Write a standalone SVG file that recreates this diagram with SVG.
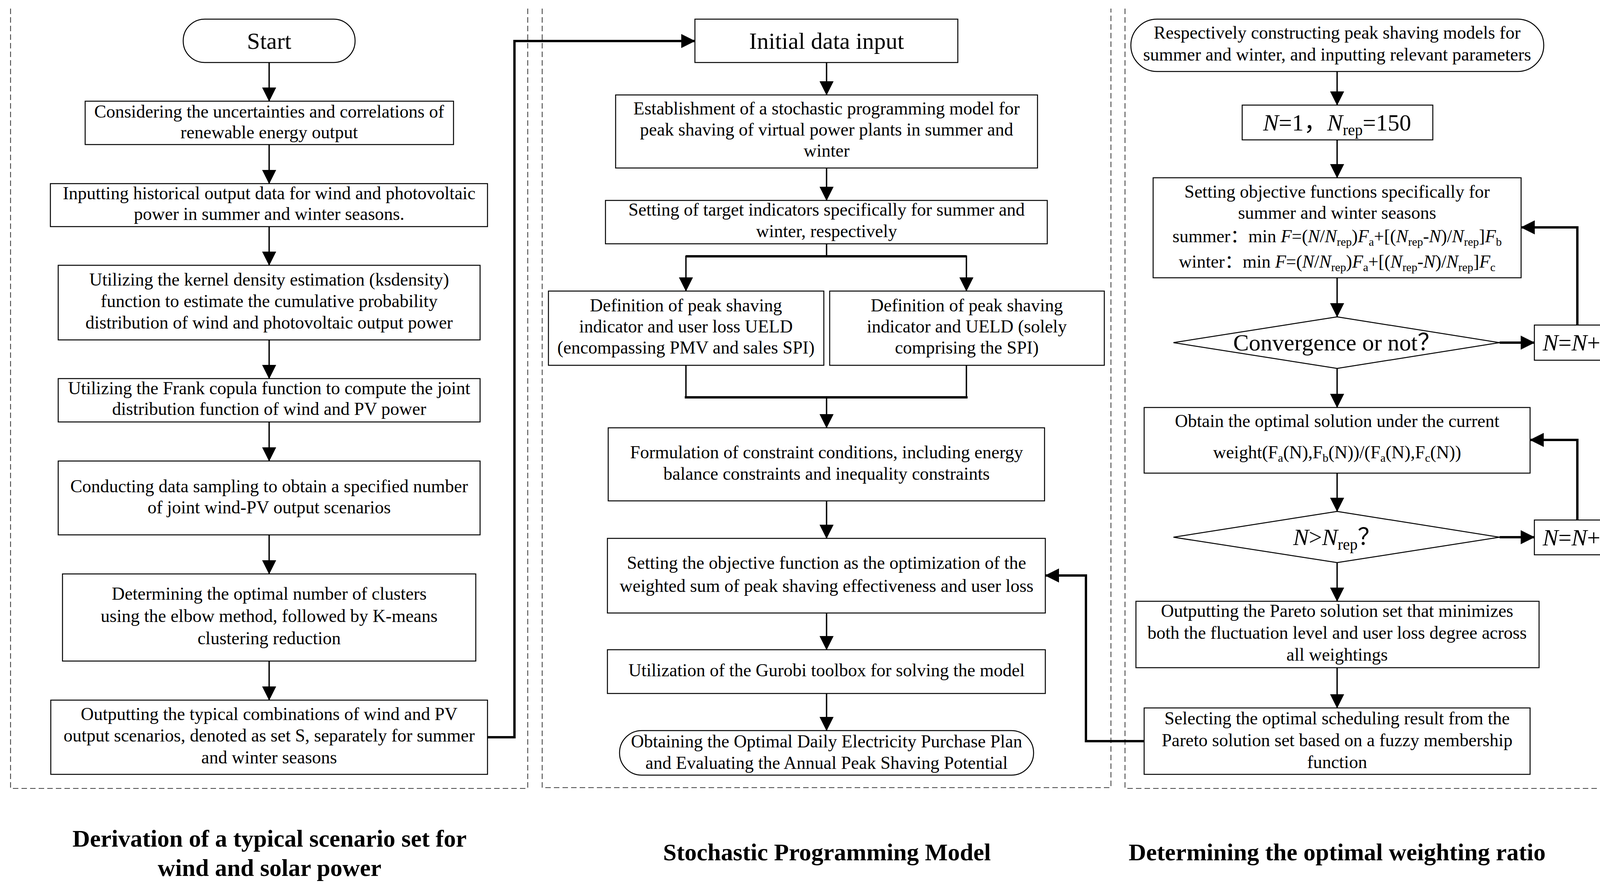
<svg xmlns="http://www.w3.org/2000/svg" width="4229" height="2278" viewBox="0 0 4229 2278">
<defs>
<style>
.t{font-family:"Liberation Serif","Times New Roman","Noto Sans CJK SC",serif;font-size:46px;fill:#000;text-anchor:middle}
.big{font-size:60px}
.ttl{font-family:"Liberation Serif","Times New Roman",serif;font-size:62px;font-weight:bold;fill:#000;text-anchor:middle}
.box{fill:#fff;stroke:#000;stroke-width:2.5}
.pan{fill:none;stroke:#444;stroke-width:2.2;stroke-dasharray:14 8}
.ar{fill:none;stroke:#000;stroke-width:3.5}
.thk{fill:none;stroke:#000;stroke-width:6}
.it{font-style:italic}
.sb{font-size:30px}
.sb2{font-size:40px}
</style>
<marker id="ah" markerUnits="userSpaceOnUse" markerWidth="36" markerHeight="36" viewBox="0 0 36 36" refX="35" refY="18" orient="auto">
<path d="M0,0 L36,18 L0,36 z" fill="#000"/>
</marker>
</defs>
<rect width="4229" height="2278" fill="#fff"/>

<g id="panels">
<path class="pan" d="M27,22 V2018 H1351 V22"/>
<path class="pan" d="M1388,22 V2016 H2844 V22"/>
<path class="pan" d="M2880,22 V2018 H4204 V22"/>
</g>

<g id="connectors">
<path class="ar" marker-end="url(#ah)" d="M689,160 V259"/>
<path class="ar" marker-end="url(#ah)" d="M689,370 V470"/>
<path class="ar" marker-end="url(#ah)" d="M689,580 V679"/>
<path class="ar" marker-end="url(#ah)" d="M689,870 V969"/>
<path class="ar" marker-end="url(#ah)" d="M689,1080 V1180"/>
<path class="ar" marker-end="url(#ah)" d="M689,1369 V1469"/>
<path class="ar" marker-end="url(#ah)" d="M689,1692 V1792"/>
<path class="thk" marker-end="url(#ah)" d="M1248,1887 H1317 V105 H1779"/>

<path class="ar" marker-end="url(#ah)" d="M2116,160 V243"/>
<path class="ar" marker-end="url(#ah)" d="M2116,430 V513"/>
<path class="ar" d="M2116,624 V656"/>
<path class="thk" d="M1756,656 H2474"/>
<path class="ar" marker-end="url(#ah)" d="M1756,654 V745"/>
<path class="ar" marker-end="url(#ah)" d="M2474,654 V745"/>
<path class="ar" d="M1756,935 V1017"/>
<path class="ar" d="M2474,935 V1017"/>
<path class="thk" d="M1753,1017 H2477"/>
<path class="ar" marker-end="url(#ah)" d="M2116,1017 V1095"/>
<path class="ar" marker-end="url(#ah)" d="M2116,1282 V1378"/>
<path class="ar" marker-end="url(#ah)" d="M2116,1569 V1663"/>
<path class="ar" marker-end="url(#ah)" d="M2116,1775 V1870"/>
<path class="thk" marker-end="url(#ah)" d="M2929,1897 H2780 V1473 H2676"/>

<path class="ar" marker-end="url(#ah)" d="M3423,183 V269"/>
<path class="ar" marker-end="url(#ah)" d="M3423,358 V455"/>
<path class="ar" marker-end="url(#ah)" d="M3423,711 V811"/>
<path class="thk" marker-end="url(#ah)" d="M3839,877 H3928"/>
<path class="thk" marker-end="url(#ah)" d="M4038,832 V582 H3894"/>
<path class="ar" marker-end="url(#ah)" d="M3423,943 V1043"/>
<path class="ar" marker-end="url(#ah)" d="M3423,1211 V1309"/>
<path class="thk" marker-end="url(#ah)" d="M3839,1375 H3928"/>
<path class="thk" marker-end="url(#ah)" d="M4038,1331 V1126 H3917"/>
<path class="ar" marker-end="url(#ah)" d="M3423,1440 V1539"/>
<path class="ar" marker-end="url(#ah)" d="M3423,1709 V1812"/>
</g>

<g id="start">
<rect class="box" x="469" y="49" width="440" height="111" rx="55"/>
<text class="t big" x="689" y="125">Start</text>
</g>
<g id="n1">
<rect class="box" x="218" y="259" width="943" height="111"/>
<text class="t" x="689" y="301">Considering the uncertainties and correlations of</text>
<text class="t" x="689" y="354">renewable energy output</text>
</g>
<g id="n2">
<rect class="box" x="129" y="470" width="1119" height="110"/>
<text class="t" x="689" y="510">Inputting historical output data for wind and photovoltaic</text>
<text class="t" x="689" y="563">power in summer and winter seasons.</text>
</g>
<g id="n3">
<rect class="box" x="149" y="679" width="1080" height="191"/>
<text class="t" x="689" y="731">Utilizing the kernel density estimation (ksdensity)</text>
<text class="t" x="689" y="786">function to estimate the cumulative probability</text>
<text class="t" x="689" y="841">distribution of wind and photovoltaic output power</text>
</g>
<g id="n4">
<rect class="box" x="149" y="969" width="1080" height="111"/>
<text class="t" x="689" y="1009">Utilizing the Frank copula function to compute the joint</text>
<text class="t" x="689" y="1062">distribution function of wind and PV power</text>
</g>
<g id="n5">
<rect class="box" x="149" y="1180" width="1080" height="189"/>
<text class="t" x="689" y="1260">Conducting data sampling to obtain a specified number</text>
<text class="t" x="689" y="1314">of joint wind-PV output scenarios</text>
</g>
<g id="n6">
<rect class="box" x="160" y="1469" width="1058" height="223"/>
<text class="t" x="689" y="1535">Determining the optimal number of clusters</text>
<text class="t" x="689" y="1592">using the elbow method, followed by K-means</text>
<text class="t" x="689" y="1649">clustering reduction</text>
</g>
<g id="n7">
<rect class="box" x="130" y="1792" width="1118" height="190"/>
<text class="t" x="689" y="1843">Outputting the typical combinations of wind and PV</text>
<text class="t" x="689" y="1898">output scenarios, denoted as set S, separately for summer</text>
<text class="t" x="689" y="1954">and winter seasons</text>
</g>

<g id="init">
<rect class="box" x="1779" y="49" width="673" height="111"/>
<text class="t big" x="2116" y="125">Initial data input</text>
</g>
<g id="p1">
<rect class="box" x="1576" y="243" width="1080" height="187"/>
<text class="t" x="2116" y="293">Establishment of a stochastic programming model for</text>
<text class="t" x="2116" y="347">peak shaving of virtual power plants in summer and</text>
<text class="t" x="2116" y="401">winter</text>
</g>
<g id="p2">
<rect class="box" x="1550" y="513" width="1131" height="111"/>
<text class="t" x="2116" y="552">Setting of target indicators specifically for summer and</text>
<text class="t" x="2116" y="607">winter, respectively</text>
</g>
<g id="p3a">
<rect class="box" x="1404" y="745" width="705" height="190"/>
<text class="t" x="1756" y="797">Definition of peak shaving</text>
<text class="t" x="1756" y="851">indicator and user loss UELD</text>
<text class="t" x="1756" y="905">(encompassing PMV and sales SPI)</text>
</g>
<g id="p3b">
<rect class="box" x="2124" y="745" width="703" height="190"/>
<text class="t" x="2475" y="797">Definition of peak shaving</text>
<text class="t" x="2475" y="851">indicator and UELD (solely</text>
<text class="t" x="2475" y="905">comprising the SPI)</text>
</g>
<g id="p4">
<rect class="box" x="1557" y="1095" width="1117" height="187"/>
<text class="t" x="2116" y="1173">Formulation of constraint conditions, including energy</text>
<text class="t" x="2116" y="1228">balance constraints and inequality constraints</text>
</g>
<g id="p5">
<rect class="box" x="1555" y="1378" width="1121" height="191"/>
<text class="t" x="2116" y="1456">Setting the objective function as the optimization of the</text>
<text class="t" x="2116" y="1515">weighted sum of peak shaving effectiveness and user loss</text>
</g>
<g id="p6">
<rect class="box" x="1555" y="1663" width="1121" height="112"/>
<text class="t" x="2116" y="1731">Utilization of the Gurobi toolbox for solving the model</text>
</g>
<g id="p7">
<rect class="box" x="1586" y="1870" width="1060" height="114" rx="57"/>
<text class="t" x="2116" y="1913">Obtaining the Optimal Daily Electricity Purchase Plan</text>
<text class="t" x="2116" y="1968">and Evaluating the Annual Peak Shaving Potential</text>
</g>

<g id="r0">
<rect class="box" x="2895" y="49" width="1057" height="134" rx="67"/>
<text class="t" x="3423" y="99">Respectively constructing peak shaving models for</text>
<text class="t" x="3423" y="155">summer and winter, and inputting relevant parameters</text>
</g>
<g id="r1">
<rect class="box" x="3180" y="269" width="488" height="89"/>
<text class="t big" x="3423" y="334"><tspan class="it">N</tspan>=1，<tspan class="it">N</tspan><tspan class="sb2" dy="12">rep</tspan><tspan dy="-12">=150</tspan></text>
</g>
<g id="r2">
<rect class="box" x="2952" y="455" width="942" height="256"/>
<text class="t" x="3423" y="506">Setting objective functions specifically for</text>
<text class="t" x="3423" y="560">summer and winter seasons</text>
<text class="t" x="3423" y="620">summer：min <tspan class="it">F</tspan>=(<tspan class="it">N</tspan>/<tspan class="it">N</tspan><tspan class="sb" dy="9">rep</tspan><tspan dy="-9">)</tspan><tspan class="it">F</tspan><tspan class="sb" dy="9">a</tspan><tspan dy="-9">+[(</tspan><tspan class="it">N</tspan><tspan class="sb" dy="9">rep</tspan><tspan dy="-9">-</tspan><tspan class="it">N</tspan>)/<tspan class="it">N</tspan><tspan class="sb" dy="9">rep</tspan><tspan dy="-9">]</tspan><tspan class="it">F</tspan><tspan class="sb" dy="9">b</tspan></text>
<text class="t" x="3423" y="685">winter：min <tspan class="it">F</tspan>=(<tspan class="it">N</tspan>/<tspan class="it">N</tspan><tspan class="sb" dy="9">rep</tspan><tspan dy="-9">)</tspan><tspan class="it">F</tspan><tspan class="sb" dy="9">a</tspan><tspan dy="-9">+[(</tspan><tspan class="it">N</tspan><tspan class="sb" dy="9">rep</tspan><tspan dy="-9">-</tspan><tspan class="it">N</tspan>)/<tspan class="it">N</tspan><tspan class="sb" dy="9">rep</tspan><tspan dy="-9">]</tspan><tspan class="it">F</tspan><tspan class="sb" dy="9">c</tspan></text>
</g>
<g id="d1">
<polygon class="box" points="3423,811 3839,877 3423,943 3004,877"/>
<text class="t big" x="3423" y="897">Convergence or not？</text>
</g>
<g id="inc1">
<rect class="box" x="3928" y="832" width="221" height="90"/>
<text class="t big" x="4038" y="897"><tspan class="it">N</tspan>=<tspan class="it">N</tspan>+1</text>
</g>
<g id="r3">
<rect class="box" x="2929" y="1043" width="988" height="168"/>
<text class="t" x="3423" y="1093">Obtain the optimal solution under the current</text>
<text class="t" x="3423" y="1173">weight(F<tspan class="sb" dy="9">a</tspan><tspan dy="-9">(N),F</tspan><tspan class="sb" dy="9">b</tspan><tspan dy="-9">(N))/(F</tspan><tspan class="sb" dy="9">a</tspan><tspan dy="-9">(N),F</tspan><tspan class="sb" dy="9">c</tspan><tspan dy="-9">(N))</tspan></text>
</g>
<g id="d2">
<polygon class="box" points="3423,1309 3839,1375 3423,1440 3004,1375"/>
<text class="t big" x="3423" y="1395"><tspan class="it">N</tspan>&gt;<tspan class="it">N</tspan><tspan class="sb2" dy="12">rep</tspan><tspan dy="-12">？</tspan></text>
</g>
<g id="inc2">
<rect class="box" x="3928" y="1331" width="221" height="89"/>
<text class="t big" x="4038" y="1396"><tspan class="it">N</tspan>=<tspan class="it">N</tspan>+1</text>
</g>
<g id="r4">
<rect class="box" x="2908" y="1539" width="1032" height="170"/>
<text class="t" x="3423" y="1579">Outputting the Pareto solution set that minimizes</text>
<text class="t" x="3423" y="1635">both the fluctuation level and user loss degree across</text>
<text class="t" x="3423" y="1691">all weightings</text>
</g>
<g id="r5">
<rect class="box" x="2929" y="1812" width="988" height="170"/>
<text class="t" x="3423" y="1854">Selecting the optimal scheduling result from the</text>
<text class="t" x="3423" y="1910">Pareto solution set based on a fuzzy membership</text>
<text class="t" x="3423" y="1966">function</text>
</g>

<g id="titles">
<text class="ttl" x="690" y="2167">Derivation of a typical scenario set for</text>
<text class="ttl" x="690" y="2242">wind and solar power</text>
<text class="ttl" x="2117" y="2202">Stochastic Programming Model</text>
<text class="ttl" x="3423" y="2202">Determining the optimal weighting ratio</text>
</g>
</svg>
